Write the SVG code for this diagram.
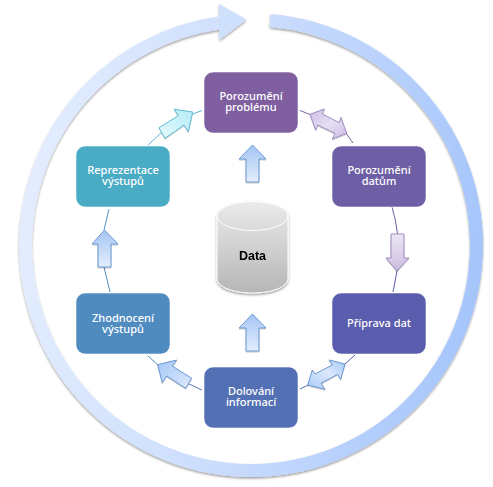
<svg xmlns="http://www.w3.org/2000/svg" width="493" height="487" viewBox="0 0 493 487">
<style>
.node{stroke:#fff;stroke-opacity:.55;stroke-width:1}
.lbl{font-family:"Noto Sans","Liberation Sans",sans-serif;font-size:11px;font-weight:500;fill:#fff;text-anchor:middle}
.c{fill:none;stroke-width:1}
.ab{stroke:#6a98d2;stroke-width:1;filter:url(#sa)}
.ac{stroke:#5fbdd3;stroke-width:1;filter:url(#sa)}
.ap{stroke:#a08cc0;stroke-width:1;filter:url(#sa)}
</style>
<defs>
<linearGradient id="ring" gradientUnits="userSpaceOnUse" x1="20" y1="200" x2="483" y2="260">
<stop offset="0" stop-color="#e3edfe"/><stop offset=".5" stop-color="#cadcfd"/><stop offset="1" stop-color="#a5c5fb"/>
</linearGradient>
<linearGradient id="gb" x1="0" y1="0" x2="0" y2="1"><stop offset="0" stop-color="#a4c5f3"/><stop offset="1" stop-color="#e3edfd"/></linearGradient>
<linearGradient id="gbl" x1="0" y1="0" x2="1" y2="1"><stop offset="0" stop-color="#a4c6f7"/><stop offset="1" stop-color="#dfeafd"/></linearGradient>
<linearGradient id="gbd" x1="0" y1="1" x2="1" y2="0"><stop offset="0" stop-color="#a8c9f8"/><stop offset=".55" stop-color="#dce8fc"/><stop offset="1" stop-color="#a4c6f7"/></linearGradient>
<linearGradient id="gc" x1="0" y1="1" x2="1" y2="0"><stop offset="0" stop-color="#e6fafe"/><stop offset="1" stop-color="#b5ecf8"/></linearGradient>
<linearGradient id="gp" x1="0" y1="0" x2="1" y2="1"><stop offset="0" stop-color="#cbbde4"/><stop offset=".5" stop-color="#e6dff3"/><stop offset="1" stop-color="#cbbde4"/></linearGradient>
<linearGradient id="gpd" x1="0" y1="0" x2="0" y2="1"><stop offset="0" stop-color="#ece6f5"/><stop offset="1" stop-color="#cbbde0"/></linearGradient>
<linearGradient id="cyl" gradientUnits="userSpaceOnUse" x1="0" y1="201" x2="0" y2="293"><stop offset="0" stop-color="#ebebeb"/><stop offset="1" stop-color="#b6b6b6"/></linearGradient>
<filter id="sh" x="-5%" y="-5%" width="110%" height="110%"><feDropShadow dx="0" dy="1.500" stdDeviation="1.200" flood-color="#000" flood-opacity=".4"/></filter>
<filter id="sa" x="-15%" y="-15%" width="130%" height="130%"><feDropShadow dx="0" dy="1" stdDeviation=".6" flood-color="#000" flood-opacity=".22"/></filter>
</defs>
<g id="ring-arrow" filter="url(#sh)">
<path d="M219 23A225.500 225.500 0 0 0 25.500 245A225.500 225.500 0 0 0 476.500 245A225.500 225.500 0 0 0 270 20.500" fill="none" stroke="url(#ring)" stroke-width="13"/>
<polygon points="219,4 246.500,19.500 219.500,40" fill="#cfe0fd"/>
</g>
<g id="connectors">
<path class="c" stroke="#5bb8cf" d="M148 145L161 133"/>
<path class="c" stroke="#5bb8cf" d="M192.700 114L202 110.500"/>
<path class="c" stroke="#8063a0" d="M300 110.500L310 114.500"/>
<path class="c" stroke="#8063a0" d="M346 133L353 143"/>
<path class="c" stroke="#6e5ea5" d="M392 207Q396 220 397.500 234"/>
<path class="c" stroke="#5a5cad" d="M397 271L393 292"/>
<path class="c" stroke="#5a5cad" d="M355 355L345 364"/>
<path class="c" stroke="#5470b5" d="M308 385L300 389"/>
<path class="c" stroke="#5470b5" d="M202 390L189 384"/>
<path class="c" stroke="#508bbf" d="M158 365L148 356"/>
<path class="c" stroke="#508bbf" d="M110 292L104 267"/>
<path class="c" stroke="#4f95c4" d="M104 230L109 209"/>
<polygon class="ab" fill="url(#gb)" points="252.500,145 266,159 259,159 259,182 246,182 246,159 239,159"/>
<polygon class="ab" fill="url(#gb)" points="252.500,314 266,328 259,328 259,351 246,351 246,328 239,328"/>
<polygon class="ab" fill="url(#gb)" points="104.500,230 118,244 111,244 111,267 98,267 98,244 92,244"/>
<polygon class="ab" fill="url(#gbl)" points="157.700,364.700 176.700,360 172.300,366 191.700,378.300 185.700,388.300 166.700,376 162.300,382.700"/>
<polygon class="ab" fill="url(#gbd)" points="307.700,385 312.300,370 315,374 332.300,365 329.300,360 345,364 340.700,379.300 337.700,374.300 321,383.300 325,389.300"/>
<polygon class="ac" fill="url(#gc)" points="192.700,112 188.300,131.700 184,125 165,138.300 159,127.700 178.300,115.700 174.300,109.300"/>
<polygon class="ap" fill="url(#gp)" points="310,114.300 324.300,109 322.300,114 339.300,122.700 341,117.300 346.700,133.300 332.300,139 335,133.300 317.700,125 315.700,130"/>
<polygon class="ap" fill="url(#gpd)" points="391,234 404,234 404,258 409,258 397,271 386,258 391,258"/>
</g>
<g id="node-porozumeni-problemu"><rect class="node" x="204" y="72" width="94" height="61" rx="9" fill="#7f5f9f"/><text class="lbl"><tspan x="251" y="100">Porozumění</tspan><tspan x="251" y="111">problému</tspan></text></g>
<g id="node-porozumeni-datum"><rect class="node" x="332" y="146" width="94" height="61" rx="9" fill="#6e5ea5"/><text class="lbl"><tspan x="379" y="174">Porozumění</tspan><tspan x="379" y="185">datům</tspan></text></g>
<g id="node-priprava-dat"><rect class="node" x="332" y="293" width="94" height="61" rx="9" fill="#5a5cad"/><text class="lbl" x="379" y="327">Příprava dat</text></g>
<g id="node-dolovani"><rect class="node" x="204" y="367" width="94" height="61" rx="9" fill="#5470b5"/><text class="lbl"><tspan x="251" y="395">Dolování</tspan><tspan x="251" y="406">informací</tspan></text></g>
<g id="node-zhodnoceni"><rect class="node" x="76" y="293" width="94" height="61" rx="9" fill="#508bbf"/><text class="lbl"><tspan x="123" y="322">Zhodnocení</tspan><tspan x="123" y="333">výstupů</tspan></text></g>
<g id="node-reprezentace"><rect class="node" x="76" y="146" width="94" height="61" rx="9" fill="#4aabc5"/><text class="lbl"><tspan x="123" y="174">Reprezentace</tspan><tspan x="123" y="185">výstupů</tspan></text></g>
<g id="node-data" filter="url(#sh)">
<path d="M217 216A35.500 14.500 0 0 1 288 216V278C288 288 270 293 252.500 293S217 288 217 278Z" fill="url(#cyl)" stroke="#fff" stroke-width="1"/>
<path d="M217 216A35.500 14.500 0 0 0 288 216" fill="none" stroke="#fff" stroke-width="1"/>
<text x="252.500" y="259.500" font-family="'Liberation Sans',sans-serif" font-size="12.500" font-weight="700" fill="#000" text-anchor="middle">Data</text>
</g>
</svg>
